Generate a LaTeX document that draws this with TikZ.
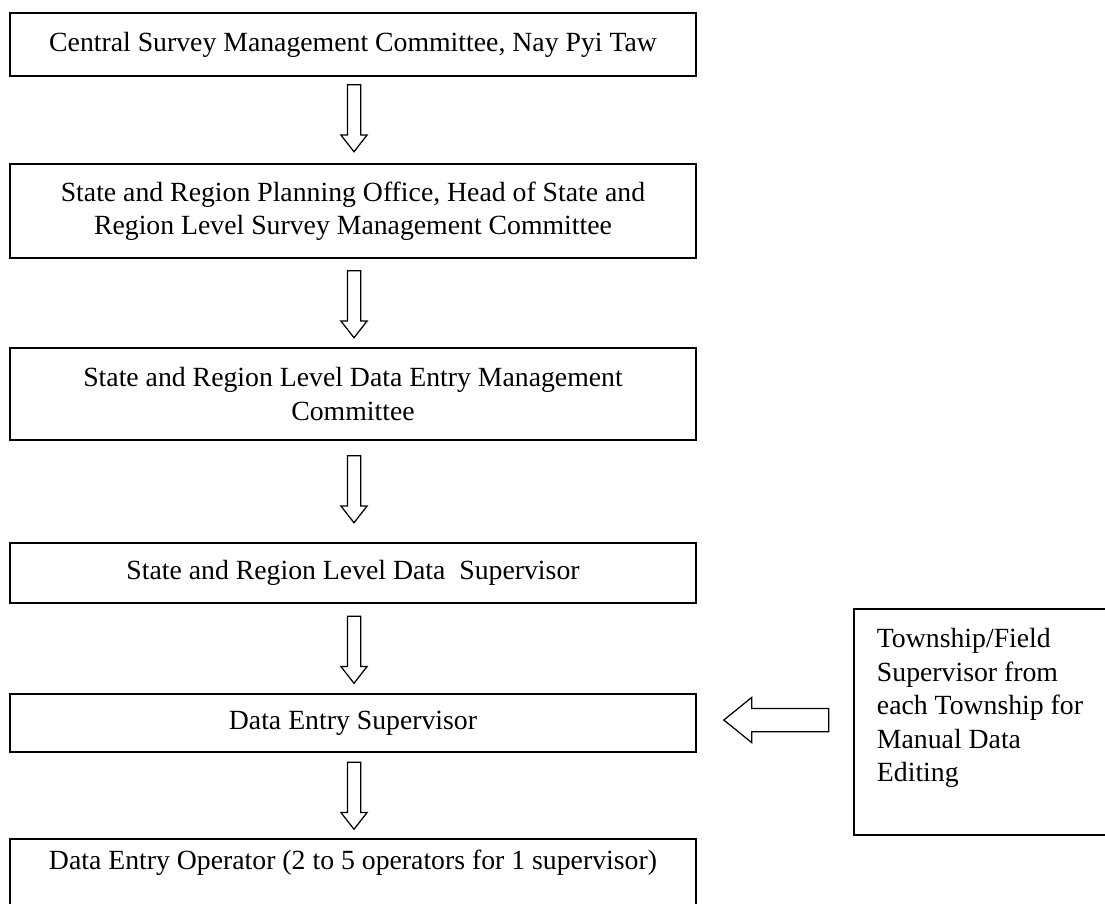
\documentclass[tikz,border=0pt]{standalone}
\usepackage{fontspec}
\setmainfont{Liberation Serif}
\usetikzlibrary{positioning,shapes.arrows}

\begin{document}
\begin{tikzpicture}[x=0.4pt, y=-0.4pt, font=\fontsize{11.1}{13.4}\selectfont,
  unit/.style={draw, line width=0.8pt, minimum width=274.4pt, align=center, inner sep=0pt},
  flow/.style={draw, line width=0.5pt, single arrow, single arrow head indent=0pt},
  down/.style={flow, shape border rotate=270, inner sep=2.4pt, minimum width=10pt, single arrow head extend=2.6pt, single arrow tip angle=76, minimum height=26.8pt},
  left/.style={flow, shape border rotate=180, inner sep=4.4pt, minimum width=17.6pt, single arrow head extend=4.4pt, single arrow tip angle=78, minimum height=42pt}]
  \useasboundingbox (0,0) rectangle (1105,903);

  % chain of committees
  \node[unit, minimum height=25.2pt] (c1) at (353,44.5) {Central Survey Management Committee, Nay Pyi Taw};
  \node[unit, minimum height=37.6pt] (c2) at (353,211) {State and Region Planning Office, Head of State and\\Region Level Survey Management Committee};
  \node[unit, minimum height=36.8pt] (c3) at (353,394) {State and Region Level Data Entry Management\\Committee};
  \node[unit, minimum height=24pt] (c4) at (353,573) {State and Region Level Data\ \ Supervisor};
  \node[unit, minimum height=23.2pt] (c5) at (353,723) {Data Entry Supervisor};
  \node[unit, anchor=north, inner ysep=4.5pt] (c6) at (353,838) {Data Entry Operator (2 to 5 operators for 1 supervisor)\\ \mbox{}\\ \mbox{}};

  % township box
  \node[draw, line width=0.8pt, anchor=north west, minimum width=100.8pt, minimum height=90.4pt,
        align=left, inner xsep=6.5pt] (tw) at (853,608)
        {Township/Field\\Supervisor from\\each Township for\\Manual Data\\Editing\\ \mbox{}};

  % block arrows
  \node[down] (a1) at (354,114) {};
  \node[down] (a2) at (354,300) {};
  \node[down] (a3) at (354,485) {};
  \node[down] (a4) at (354,645.5) {};
  \node[down] (a5) at (354,791.5) {};
  \node[left] (a6) at (783.5,720) {};
\end{tikzpicture}
\end{document}
